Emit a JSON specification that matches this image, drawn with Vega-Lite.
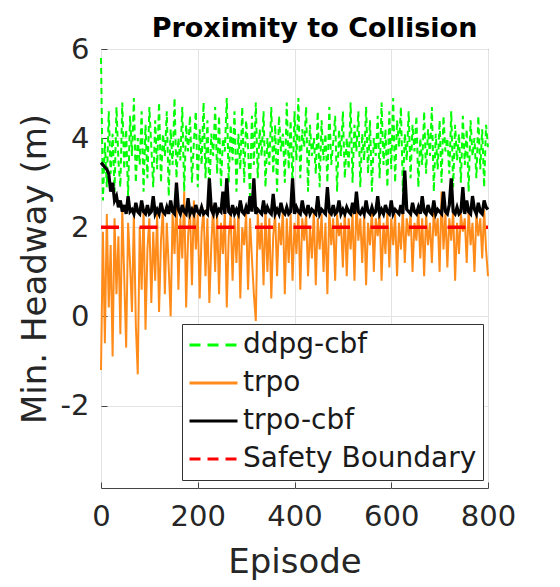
{
  "$schema": "https://vega.github.io/schema/vega-lite/v6.json",
  "autosize": "none",
  "width": 387,
  "height": 439,
  "padding": {"left": 101, "top": 49, "right": 72, "bottom": 99},
  "background": "white",
  "config": {
    "font": "DejaVu Sans",
    "view": {"stroke": "#444444", "strokeWidth": 1},
    "axis": {"labelFont": "DejaVu Sans", "titleFont": "DejaVu Sans", "labelColor": "#262626", "titleColor": "#262626", "titleFontWeight": "normal", "gridColor": "#e3e3e3", "domain": false, "tickColor": "#444444"},
    "legend": {"labelFont": "DejaVu Sans", "labelFontSize": 28, "labelColor": "#1a1a1a", "labelLimit": 400, "symbolType": "stroke", "symbolSize": 2304, "symbolStrokeWidth": 3, "clipHeight": 30, "rowPadding": 8, "padding": 6, "labelOffset": 4, "strokeColor": "#333333", "fillColor": "white", "cornerRadius": 0}
  },
  "title": {"text": "Proximity to Collision", "font": "DejaVu Sans", "fontSize": 27, "fontWeight": "bold", "color": "black", "anchor": "middle", "dx": 20, "offset": -8},
  "data": {"values": [
{"e":0,"ddpg-cbf":5.8,"trpo":-1.2,"trpo-cbf":3.45,"Safety Boundary":2},
{"e":4,"ddpg-cbf":2.6,"trpo":1.9,"trpo-cbf":3.4},
{"e":8,"ddpg-cbf":3.9,"trpo":-0.6,"trpo-cbf":3.35},
{"e":12,"ddpg-cbf":2.9,"trpo":2.3,"trpo-cbf":3.3},
{"e":16,"ddpg-cbf":4.6,"trpo":0.2,"trpo-cbf":3.2},
{"e":20,"ddpg-cbf":3.2,"trpo":1.6,"trpo-cbf":2.8},
{"e":24,"ddpg-cbf":4.1,"trpo":-0.9,"trpo-cbf":3.0},
{"e":28,"ddpg-cbf":2.8,"trpo":2.2,"trpo-cbf":2.6},
{"e":32,"ddpg-cbf":4.7,"trpo":0.5,"trpo-cbf":2.7},
{"e":36,"ddpg-cbf":3.5,"trpo":1.8,"trpo-cbf":2.45},
{"e":40,"ddpg-cbf":2.9,"trpo":-0.4,"trpo-cbf":2.6},
{"e":44,"ddpg-cbf":4.8,"trpo":2.4,"trpo-cbf":2.35},
{"e":48,"ddpg-cbf":3.3,"trpo":0.9,"trpo-cbf":2.5},
{"e":52,"ddpg-cbf":4.2,"trpo":-0.7,"trpo-cbf":2.3},
{"e":56,"ddpg-cbf":2.7,"trpo":2.1,"trpo-cbf":2.7},
{"e":60,"ddpg-cbf":4.5,"trpo":1.2,"trpo-cbf":2.35},
{"e":64,"ddpg-cbf":3.6,"trpo":0.1,"trpo-cbf":2.4},
{"e":68,"ddpg-cbf":4.9,"trpo":2.3,"trpo-cbf":2.3},
{"e":72,"ddpg-cbf":3.0,"trpo":-0.2,"trpo-cbf":2.55},
{"e":76,"ddpg-cbf":4.0,"trpo":-1.3,"trpo-cbf":2.35},
{"e":80,"ddpg-cbf":3.4,"trpo":2.0,"trpo-cbf":2.3},
{"e":84,"ddpg-cbf":4.6,"trpo":0.6,"trpo-cbf":2.6},
{"e":88,"ddpg-cbf":2.8,"trpo":2.4,"trpo-cbf":2.35},
{"e":92,"ddpg-cbf":4.3,"trpo":-0.3,"trpo-cbf":2.3},
{"e":96,"ddpg-cbf":3.1,"trpo":1.5,"trpo-cbf":2.5},
{"e":100,"ddpg-cbf":4.7,"trpo":2.2,"trpo-cbf":2.3},
{"e":104,"ddpg-cbf":3.8,"trpo":0.3,"trpo-cbf":2.35},
{"e":108,"ddpg-cbf":2.9,"trpo":1.9,"trpo-cbf":2.7},
{"e":112,"ddpg-cbf":4.4,"trpo":0.8,"trpo-cbf":2.3},
{"e":116,"ddpg-cbf":3.3,"trpo":2.3,"trpo-cbf":2.4},
{"e":120,"ddpg-cbf":4.8,"trpo":0.1,"trpo-cbf":2.3},
{"e":124,"ddpg-cbf":3.0,"trpo":1.7,"trpo-cbf":2.55},
{"e":128,"ddpg-cbf":4.1,"trpo":2.4,"trpo-cbf":2.35},
{"e":132,"ddpg-cbf":3.6,"trpo":0.5,"trpo-cbf":2.3},
{"e":136,"ddpg-cbf":4.6,"trpo":2.1,"trpo-cbf":2.45},
{"e":140,"ddpg-cbf":2.7,"trpo":1.1,"trpo-cbf":2.3},
{"e":144,"ddpg-cbf":4.2,"trpo":0.0,"trpo-cbf":2.6},
{"e":148,"ddpg-cbf":3.4,"trpo":2.3,"trpo-cbf":2.35},
{"e":152,"ddpg-cbf":4.9,"trpo":1.4,"trpo-cbf":2.3},
{"e":156,"ddpg-cbf":3.1,"trpo":2.7,"trpo-cbf":3.0},
{"e":160,"ddpg-cbf":4.0,"trpo":0.6,"trpo-cbf":2.4},
{"e":164,"ddpg-cbf":3.5,"trpo":2.2,"trpo-cbf":2.3},
{"e":168,"ddpg-cbf":4.7,"trpo":1.3,"trpo-cbf":2.5},
{"e":172,"ddpg-cbf":2.8,"trpo":2.8,"trpo-cbf":2.35},
{"e":176,"ddpg-cbf":4.3,"trpo":0.2,"trpo-cbf":2.3},
{"e":180,"ddpg-cbf":3.7,"trpo":1.8,"trpo-cbf":2.65},
{"e":184,"ddpg-cbf":4.5,"trpo":2.4,"trpo-cbf":2.3},
{"e":188,"ddpg-cbf":3.0,"trpo":0.7,"trpo-cbf":2.4},
{"e":192,"ddpg-cbf":3.9,"trpo":2.6,"trpo-cbf":2.3},
{"e":196,"ddpg-cbf":4.6,"trpo":1.5,"trpo-cbf":2.5},
{"e":200,"ddpg-cbf":2.9,"trpo":2.3,"trpo-cbf":2.35},
{"e":204,"ddpg-cbf":4.2,"trpo":0.4,"trpo-cbf":2.3},
{"e":208,"ddpg-cbf":3.4,"trpo":1.9,"trpo-cbf":2.45},
{"e":212,"ddpg-cbf":4.8,"trpo":2.4,"trpo-cbf":2.3},
{"e":216,"ddpg-cbf":3.1,"trpo":0.9,"trpo-cbf":2.35},
{"e":220,"ddpg-cbf":4.4,"trpo":2.2,"trpo-cbf":2.3},
{"e":224,"ddpg-cbf":2.7,"trpo":0.3,"trpo-cbf":3.1},
{"e":228,"ddpg-cbf":4.1,"trpo":1.6,"trpo-cbf":2.4},
{"e":232,"ddpg-cbf":3.6,"trpo":2.5,"trpo-cbf":2.3},
{"e":236,"ddpg-cbf":4.7,"trpo":1.0,"trpo-cbf":2.55},
{"e":240,"ddpg-cbf":3.2,"trpo":2.3,"trpo-cbf":2.3},
{"e":244,"ddpg-cbf":4.5,"trpo":0.5,"trpo-cbf":2.4},
{"e":248,"ddpg-cbf":2.9,"trpo":2.1,"trpo-cbf":2.35},
{"e":252,"ddpg-cbf":4.0,"trpo":1.4,"trpo-cbf":2.8},
{"e":256,"ddpg-cbf":3.7,"trpo":2.4,"trpo-cbf":2.3},
{"e":260,"ddpg-cbf":4.9,"trpo":0.2,"trpo-cbf":3.1},
{"e":264,"ddpg-cbf":3.0,"trpo":1.8,"trpo-cbf":2.35},
{"e":268,"ddpg-cbf":4.3,"trpo":2.3,"trpo-cbf":2.3},
{"e":272,"ddpg-cbf":3.5,"trpo":0.8,"trpo-cbf":2.5},
{"e":276,"ddpg-cbf":4.6,"trpo":2.2,"trpo-cbf":2.3},
{"e":280,"ddpg-cbf":2.8,"trpo":1.2,"trpo-cbf":2.4},
{"e":284,"ddpg-cbf":4.1,"trpo":2.4,"trpo-cbf":2.3},
{"e":288,"ddpg-cbf":3.3,"trpo":0.4,"trpo-cbf":2.6},
{"e":292,"ddpg-cbf":4.7,"trpo":2.0,"trpo-cbf":2.35},
{"e":296,"ddpg-cbf":3.0,"trpo":1.6,"trpo-cbf":2.3},
{"e":300,"ddpg-cbf":4.4,"trpo":2.3,"trpo-cbf":2.45},
{"e":304,"ddpg-cbf":3.8,"trpo":0.6,"trpo-cbf":2.3},
{"e":308,"ddpg-cbf":2.7,"trpo":2.2,"trpo-cbf":2.7},
{"e":312,"ddpg-cbf":4.5,"trpo":1.3,"trpo-cbf":2.35},
{"e":316,"ddpg-cbf":3.4,"trpo":0.5,"trpo-cbf":3.1},
{"e":320,"ddpg-cbf":4.8,"trpo":-0.1,"trpo-cbf":2.3},
{"e":324,"ddpg-cbf":3.1,"trpo":2.3,"trpo-cbf":2.4},
{"e":328,"ddpg-cbf":4.2,"trpo":1.5,"trpo-cbf":2.35},
{"e":332,"ddpg-cbf":3.6,"trpo":2.1,"trpo-cbf":2.3},
{"e":336,"ddpg-cbf":4.6,"trpo":0.7,"trpo-cbf":2.6},
{"e":340,"ddpg-cbf":2.9,"trpo":2.4,"trpo-cbf":2.3},
{"e":344,"ddpg-cbf":4.0,"trpo":1.0,"trpo-cbf":2.45},
{"e":348,"ddpg-cbf":3.4,"trpo":2.2,"trpo-cbf":2.35},
{"e":352,"ddpg-cbf":4.7,"trpo":0.4,"trpo-cbf":2.3},
{"e":356,"ddpg-cbf":3.2,"trpo":1.8,"trpo-cbf":2.75},
{"e":360,"ddpg-cbf":4.3,"trpo":2.3,"trpo-cbf":2.3},
{"e":364,"ddpg-cbf":2.8,"trpo":0.9,"trpo-cbf":2.4},
{"e":368,"ddpg-cbf":4.5,"trpo":2.1,"trpo-cbf":2.3},
{"e":372,"ddpg-cbf":3.7,"trpo":1.6,"trpo-cbf":2.55},
{"e":376,"ddpg-cbf":4.1,"trpo":2.4,"trpo-cbf":2.35},
{"e":380,"ddpg-cbf":3.0,"trpo":0.5,"trpo-cbf":2.3},
{"e":384,"ddpg-cbf":4.8,"trpo":2.2,"trpo-cbf":2.45},
{"e":388,"ddpg-cbf":3.3,"trpo":1.2,"trpo-cbf":2.3},
{"e":392,"ddpg-cbf":4.4,"trpo":2.3,"trpo-cbf":2.35},
{"e":396,"ddpg-cbf":2.9,"trpo":0.8,"trpo-cbf":3.1},
{"e":400,"ddpg-cbf":4.6,"trpo":2.1,"trpo-cbf":2.3},
{"e":404,"ddpg-cbf":3.5,"trpo":1.4,"trpo-cbf":2.45},
{"e":408,"ddpg-cbf":4.9,"trpo":2.4,"trpo-cbf":2.35},
{"e":412,"ddpg-cbf":3.1,"trpo":0.6,"trpo-cbf":2.3},
{"e":416,"ddpg-cbf":4.2,"trpo":2.2,"trpo-cbf":2.6},
{"e":420,"ddpg-cbf":3.8,"trpo":1.7,"trpo-cbf":2.35},
{"e":424,"ddpg-cbf":4.7,"trpo":2.3,"trpo-cbf":2.3},
{"e":428,"ddpg-cbf":2.8,"trpo":0.9,"trpo-cbf":2.5},
{"e":432,"ddpg-cbf":4.3,"trpo":2.0,"trpo-cbf":2.3},
{"e":436,"ddpg-cbf":3.6,"trpo":1.3,"trpo-cbf":2.4},
{"e":440,"ddpg-cbf":4.0,"trpo":2.4,"trpo-cbf":2.35},
{"e":444,"ddpg-cbf":3.2,"trpo":0.7,"trpo-cbf":2.3},
{"e":448,"ddpg-cbf":4.6,"trpo":2.2,"trpo-cbf":2.7},
{"e":452,"ddpg-cbf":2.9,"trpo":1.5,"trpo-cbf":2.3},
{"e":456,"ddpg-cbf":4.4,"trpo":2.3,"trpo-cbf":2.4},
{"e":460,"ddpg-cbf":3.5,"trpo":1.0,"trpo-cbf":2.35},
{"e":464,"ddpg-cbf":4.1,"trpo":2.1,"trpo-cbf":2.3},
{"e":468,"ddpg-cbf":3.0,"trpo":0.5,"trpo-cbf":2.9},
{"e":472,"ddpg-cbf":4.7,"trpo":2.4,"trpo-cbf":2.35},
{"e":476,"ddpg-cbf":3.4,"trpo":1.6,"trpo-cbf":2.3},
{"e":480,"ddpg-cbf":3.9,"trpo":2.2,"trpo-cbf":2.5},
{"e":484,"ddpg-cbf":4.5,"trpo":0.8,"trpo-cbf":2.3},
{"e":488,"ddpg-cbf":2.8,"trpo":2.3,"trpo-cbf":2.35},
{"e":492,"ddpg-cbf":4.2,"trpo":1.8,"trpo-cbf":2.6},
{"e":496,"ddpg-cbf":3.6,"trpo":2.1,"trpo-cbf":2.3},
{"e":500,"ddpg-cbf":4.6,"trpo":1.1,"trpo-cbf":2.4},
{"e":504,"ddpg-cbf":3.1,"trpo":2.4,"trpo-cbf":2.3},
{"e":508,"ddpg-cbf":4.0,"trpo":0.9,"trpo-cbf":2.45},
{"e":512,"ddpg-cbf":3.3,"trpo":2.2,"trpo-cbf":2.35},
{"e":516,"ddpg-cbf":4.8,"trpo":1.5,"trpo-cbf":2.3},
{"e":520,"ddpg-cbf":3.0,"trpo":2.3,"trpo-cbf":2.55},
{"e":524,"ddpg-cbf":4.3,"trpo":0.8,"trpo-cbf":2.3},
{"e":528,"ddpg-cbf":3.7,"trpo":2.6,"trpo-cbf":2.8},
{"e":532,"ddpg-cbf":4.6,"trpo":1.7,"trpo-cbf":2.35},
{"e":536,"ddpg-cbf":2.9,"trpo":2.2,"trpo-cbf":2.3},
{"e":540,"ddpg-cbf":4.1,"trpo":1.2,"trpo-cbf":2.4},
{"e":544,"ddpg-cbf":3.5,"trpo":2.3,"trpo-cbf":2.3},
{"e":548,"ddpg-cbf":4.7,"trpo":0.7,"trpo-cbf":2.6},
{"e":552,"ddpg-cbf":3.2,"trpo":2.1,"trpo-cbf":2.35},
{"e":556,"ddpg-cbf":4.4,"trpo":1.6,"trpo-cbf":2.3},
{"e":560,"ddpg-cbf":2.8,"trpo":2.4,"trpo-cbf":2.45},
{"e":564,"ddpg-cbf":4.0,"trpo":1.0,"trpo-cbf":2.3},
{"e":568,"ddpg-cbf":3.6,"trpo":2.2,"trpo-cbf":2.35},
{"e":572,"ddpg-cbf":4.5,"trpo":1.8,"trpo-cbf":2.7},
{"e":576,"ddpg-cbf":3.1,"trpo":2.3,"trpo-cbf":2.3},
{"e":580,"ddpg-cbf":4.8,"trpo":0.8,"trpo-cbf":2.4},
{"e":584,"ddpg-cbf":3.4,"trpo":2.1,"trpo-cbf":2.3},
{"e":588,"ddpg-cbf":4.2,"trpo":1.4,"trpo-cbf":2.5},
{"e":592,"ddpg-cbf":2.9,"trpo":2.4,"trpo-cbf":2.35},
{"e":596,"ddpg-cbf":4.6,"trpo":1.1,"trpo-cbf":2.3},
{"e":600,"ddpg-cbf":3.3,"trpo":2.2,"trpo-cbf":2.6},
{"e":604,"ddpg-cbf":4.9,"trpo":1.6,"trpo-cbf":2.3},
{"e":608,"ddpg-cbf":3.0,"trpo":2.3,"trpo-cbf":2.4},
{"e":612,"ddpg-cbf":4.4,"trpo":0.9,"trpo-cbf":2.35},
{"e":616,"ddpg-cbf":3.8,"trpo":2.1,"trpo-cbf":2.3},
{"e":620,"ddpg-cbf":4.7,"trpo":1.5,"trpo-cbf":2.5},
{"e":624,"ddpg-cbf":2.8,"trpo":2.4,"trpo-cbf":2.3},
{"e":628,"ddpg-cbf":4.1,"trpo":1.2,"trpo-cbf":3.27},
{"e":632,"ddpg-cbf":3.5,"trpo":2.2,"trpo-cbf":2.4},
{"e":636,"ddpg-cbf":4.6,"trpo":1.8,"trpo-cbf":2.35},
{"e":640,"ddpg-cbf":3.1,"trpo":2.3,"trpo-cbf":2.3},
{"e":644,"ddpg-cbf":4.3,"trpo":1.0,"trpo-cbf":2.55},
{"e":648,"ddpg-cbf":3.7,"trpo":2.1,"trpo-cbf":2.35},
{"e":652,"ddpg-cbf":4.5,"trpo":1.7,"trpo-cbf":2.3},
{"e":656,"ddpg-cbf":2.9,"trpo":2.4,"trpo-cbf":2.45},
{"e":660,"ddpg-cbf":4.0,"trpo":1.3,"trpo-cbf":2.3},
{"e":664,"ddpg-cbf":3.4,"trpo":2.2,"trpo-cbf":2.7},
{"e":668,"ddpg-cbf":4.6,"trpo":0.9,"trpo-cbf":2.35},
{"e":672,"ddpg-cbf":3.2,"trpo":2.3,"trpo-cbf":2.3},
{"e":676,"ddpg-cbf":4.2,"trpo":1.6,"trpo-cbf":2.5},
{"e":680,"ddpg-cbf":3.6,"trpo":2.1,"trpo-cbf":2.35},
{"e":684,"ddpg-cbf":4.7,"trpo":1.2,"trpo-cbf":2.3},
{"e":688,"ddpg-cbf":2.8,"trpo":2.4,"trpo-cbf":2.6},
{"e":692,"ddpg-cbf":4.1,"trpo":1.8,"trpo-cbf":2.3},
{"e":696,"ddpg-cbf":3.3,"trpo":2.2,"trpo-cbf":2.4},
{"e":700,"ddpg-cbf":4.4,"trpo":1.0,"trpo-cbf":2.35},
{"e":704,"ddpg-cbf":3.0,"trpo":2.8,"trpo-cbf":2.3},
{"e":708,"ddpg-cbf":4.5,"trpo":1.5,"trpo-cbf":2.8},
{"e":712,"ddpg-cbf":3.7,"trpo":2.3,"trpo-cbf":2.35},
{"e":716,"ddpg-cbf":4.0,"trpo":1.1,"trpo-cbf":2.3},
{"e":720,"ddpg-cbf":3.2,"trpo":2.2,"trpo-cbf":2.5},
{"e":724,"ddpg-cbf":4.6,"trpo":1.7,"trpo-cbf":3.1},
{"e":728,"ddpg-cbf":2.9,"trpo":2.4,"trpo-cbf":2.35},
{"e":732,"ddpg-cbf":4.3,"trpo":0.8,"trpo-cbf":2.3},
{"e":736,"ddpg-cbf":3.5,"trpo":2.1,"trpo-cbf":2.45},
{"e":740,"ddpg-cbf":4.1,"trpo":1.4,"trpo-cbf":2.3},
{"e":744,"ddpg-cbf":3.0,"trpo":2.3,"trpo-cbf":2.35},
{"e":748,"ddpg-cbf":4.5,"trpo":1.9,"trpo-cbf":2.9},
{"e":752,"ddpg-cbf":3.4,"trpo":2.2,"trpo-cbf":2.3},
{"e":756,"ddpg-cbf":4.2,"trpo":1.2,"trpo-cbf":2.6},
{"e":760,"ddpg-cbf":2.8,"trpo":2.4,"trpo-cbf":2.35},
{"e":764,"ddpg-cbf":4.4,"trpo":1.6,"trpo-cbf":2.3},
{"e":768,"ddpg-cbf":3.6,"trpo":2.1,"trpo-cbf":2.7},
{"e":772,"ddpg-cbf":4.0,"trpo":1.0,"trpo-cbf":2.4},
{"e":776,"ddpg-cbf":3.1,"trpo":2.3,"trpo-cbf":2.3},
{"e":780,"ddpg-cbf":4.5,"trpo":1.8,"trpo-cbf":2.55},
{"e":784,"ddpg-cbf":3.3,"trpo":2.2,"trpo-cbf":2.35},
{"e":788,"ddpg-cbf":4.2,"trpo":1.3,"trpo-cbf":2.3},
{"e":792,"ddpg-cbf":2.9,"trpo":2.4,"trpo-cbf":2.6},
{"e":796,"ddpg-cbf":4.3,"trpo":1.5,"trpo-cbf":2.45},
{"e":800,"ddpg-cbf":3.8,"trpo":0.9,"trpo-cbf":2.4,"Safety Boundary":2}
  ]},
  "transform": [
    {"fold": ["ddpg-cbf", "trpo", "trpo-cbf", "Safety Boundary"], "as": ["series", "v"]},
    {"filter": "isValid(datum.v)"}
  ],
  "encoding": {
    "x": {"field": "e", "type": "quantitative", "scale": {"domain": [0, 800], "nice": false},
      "axis": {"values": [0, 200, 400, 600, 800], "title": "Episode", "labelFontSize": 29, "titleFontSize": 34, "grid": true, "tickSize": -6, "labelPadding": 20, "titlePadding": 14, "labelFlush": false}},
    "y": {"field": "v", "type": "quantitative", "scale": {"domain": [-3.85, 6], "nice": false, "zero": false},
      "axis": {"values": [-2, 0, 2, 4, 6], "title": "Min. Headway (m)", "labelExpr": "replace(datum.label, '\u2212', '-')", "labelFontSize": 29, "titleFontSize": 34, "grid": true, "tickSize": -6, "labelPadding": 18, "titlePadding": 8, "labelFlush": false}},
    "color": {"field": "series", "type": "nominal",
      "scale": {"domain": ["ddpg-cbf", "trpo", "trpo-cbf", "Safety Boundary"], "range": ["#00ff00", "#ff8c1a", "#000000", "#ff0000"]},
      "legend": {"title": null, "orient": "none", "legendX": 81, "legendY": 275}},
    "strokeDash": {"field": "series", "type": "nominal",
      "scale": {"domain": ["ddpg-cbf", "trpo", "trpo-cbf", "Safety Boundary"], "range": [[11, 7], [1, 0], [1, 0], [11, 7]]},
      "legend": {"title": null, "orient": "none", "legendX": 81, "legendY": 275}}
  },
  "layer": [
    {"transform": [{"filter": {"field": "series", "equal": "ddpg-cbf"}}], "mark": {"type": "line", "strokeWidth": 2}, "encoding": {"strokeDash": {"value": [6, 4]}}},
    {"transform": [{"filter": {"field": "series", "equal": "trpo"}}], "mark": {"type": "line", "strokeWidth": 2}},
    {"transform": [{"filter": {"field": "series", "equal": "trpo-cbf"}}], "mark": {"type": "line", "strokeWidth": 3.2}},
    {"transform": [{"filter": {"field": "series", "equal": "Safety Boundary"}}], "mark": {"type": "line", "strokeWidth": 3.5}, "encoding": {"strokeDash": {"value": [18, 20.5]}}}
  ]
}
